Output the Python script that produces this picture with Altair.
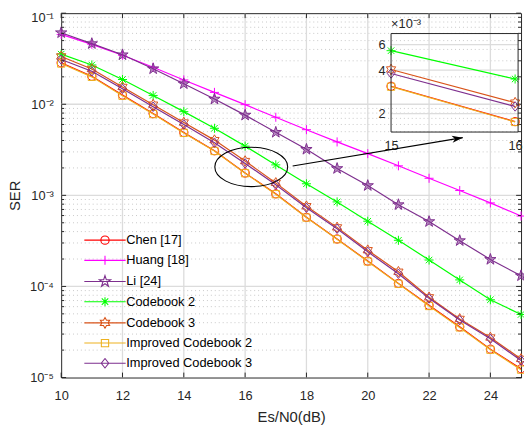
import altair as alt
import pandas as pd

# ---------------- data ----------------
snr = list(range(10, 26))
series_names = ["Chen [17]", "Huang [18]", "Li [24]", "Codebook 2", "Codebook 3",
                "Improved Codebook 2", "Improved Codebook 3"]
chen = [2.85e-2, 2.03e-2, 1.26e-2, 7.9e-3, 4.9e-3, 3.09e-3, 1.76e-3, 1.04e-3,
        5.74e-4, 3.32e-4, 1.9e-4, 1.08e-4, 6.2e-5, 3.6e-5, 2.05e-5, 1.25e-5]
huang = [5.85e-2, 4.55e-2, 3.45e-2, 2.55e-2, 1.85e-2, 1.35e-2, 9.9e-3, 7.2e-3,
         5.26e-3, 3.86e-3, 2.87e-3, 2.11e-3, 1.54e-3, 1.13e-3, 8.26e-4, 5.93e-4]
li = [6.1e-2, 4.63e-2, 3.49e-2, 2.45e-2, 1.68e-2, 1.14e-2, 7.6e-3, 4.92e-3,
      3.2e-3, 1.97e-3, 1.28e-3, 7.9e-4, 5.15e-4, 3.18e-4, 1.98e-4, 1.31e-4]
cb2 = [3.55e-2, 2.7e-2, 1.87e-2, 1.25e-2, 8.3e-3, 5.45e-3, 3.47e-3, 2.16e-3,
       1.34e-3, 8.47e-4, 5.2e-4, 3.21e-4, 1.95e-4, 1.18e-4, 7.14e-5, 4.92e-5]
cb3 = [3.35e-2, 2.44e-2, 1.55e-2, 9.9e-3, 6.3e-3, 4.04e-3, 2.38e-3, 1.37e-3,
       7.6e-4, 4.45e-4, 2.5e-4, 1.45e-4, 7.6e-5, 4.4e-5, 2.75e-5, 1.6e-5]
icb2 = [2.8e-2, 2.0e-2, 1.24e-2, 7.8e-3, 4.85e-3, 3.07e-3, 1.75e-3, 1.03e-3,
        5.7e-4, 3.3e-4, 1.88e-4, 1.07e-4, 6.1e-5, 3.55e-5, 2.02e-5, 1.22e-5]
icb3 = [3.1e-2, 2.3e-2, 1.48e-2, 9.4e-3, 6.0e-3, 3.79e-3, 2.24e-3, 1.31e-3,
        7.3e-4, 4.3e-4, 2.4e-4, 1.38e-4, 7.4e-5, 4.27e-5, 2.66e-5, 1.54e-5]
series_values = [chen, huang, li, cb2, cb3, icb2, icb3]
colors = ["#FF0000", "#FF00FF", "#7E2F8E", "#00FF00", "#D95319", "#EDB120", "#7E2F8E"]
marker_fill = [None, None, 0.55, None, None, None, None]
inset_series = ["Chen [17]", "Codebook 2", "Codebook 3", "Improved Codebook 2", "Improved Codebook 3"]

x_ticks = [10, 12, 14, 16, 18, 20, 22, 24]
y_decades = [1e-5, 1e-4, 1e-3, 1e-2, 1e-1]
y_labels = ["10⁻⁵", "10⁻⁴", "10⁻³", "10⁻²", "10⁻¹"]
y_minor = [k * d for d in [1e-5, 1e-4, 1e-3, 1e-2] for k in range(2, 10)]

inset_x_domain = [15, 16.024]
inset_y_domain = [1.49e-3, 7.16e-3]
inset_x_ticks = [15, 16]
inset_y_ticks = [0.002, 0.004, 0.006]
inset_y_labels = ["2", "4", "6"]
inset_exponent = "×10⁻³"

ellipse_center = {"x": 16.2, "y": 2.05e-3}
arrow_start = {"x": 17.55, "y": 2.1e-3}
arrow_tip = {"x": 23.1, "y": 4.3e-3}

# ---------------- styling helpers ----------------
W, H = 467, 370
FONT = "Liberation Sans"
AX = "#262626"


def poly(pts):
    return "M" + "L".join(f"{x:.2f},{y:.2f}" for x, y in pts) + "Z"


def circle(r):
    k = 0.5523 * r
    return (f"M{-r},0C{-r},{-k},{-k},{-r},0,{-r}C{k},{-r},{r},{-k},{r},0"
            f"C{r},{k},{k},{r},0,{r}C{-k},{r},{-r},{k},{-r},0Z")


def star(n, ro, ri):
    import math
    pts = []
    for i in range(2 * n):
        r = ro if i % 2 == 0 else ri
        a = math.radians(-90 + i * 180 / n)
        pts.append((r * math.cos(a), r * math.sin(a)))
    return poly(pts)


markers = [
    circle(4.2),
    "M-4.6,0L4.6,0M0,-4.6L0,4.6",
    star(5, 6.0, 2.3),
    "M-4.6,0L4.6,0M0,-4.6L0,4.6M-3.3,-3.3L3.3,3.3M-3.3,3.3L3.3,-3.3",
    star(6, 5.4, 3.1),
    poly([(-3.7, -3.7), (3.7, -3.7), (3.7, 3.7), (-3.7, 3.7)]),
    poly([(0, -4.8), (3.8, 0), (0, 4.8), (-3.8, 0)]),
]
legend_shapes = ["M-21,0L21,0" + m for m in markers]

xscale = alt.Scale(domain=[10, 25], nice=False, zero=False)
yscale = alt.Scale(type="log", domain=[1e-5, 1e-1], nice=False)
label_expr = "[" + ",".join(f"'{s}'" for s in y_labels) + "][round(log(datum.value)/LN10)+5]"
xaxis = alt.Axis(values=x_ticks, grid=False, ticks=False, domain=False, labelPadding=12,
                 labelFlush=False, title="Es/N0(dB)", titleX=W / 2, titleY=45,
                 titleBaseline="alphabetic", titleFontSize=15)
yaxis = alt.Axis(values=y_decades, labelExpr=label_expr, grid=False, ticks=False, domain=False,
                 labelPadding=8, labelFlush=False,
                 labelOffset={"condition": {"test": "datum.value > 0.05", "value": 4}, "value": 0},
                 title="SER", titleX=-47, titleY=185,
                 titleBaseline="middle", titleFontSize=15)


def X(f):
    return alt.X(f, type="quantitative", scale=xscale, axis=xaxis)


def Y(f):
    return alt.Y(f, type="quantitative", scale=yscale, axis=yaxis)


def point_mark(mk, col, fill):
    if fill is None:
        return dict(shape=mk, size=4, filled=False, color=col, strokeWidth=1, opacity=1)
    return dict(shape=mk, size=4, filled=True, fill=col, fillOpacity=fill, stroke=col,
                strokeWidth=1, opacity=1)


# ---------------- main plot layers ----------------
layers = []
xg = pd.DataFrame({"v": x_ticks[1:]})
ymaj = pd.DataFrame({"v": y_decades[1:-1]})
ymin = pd.DataFrame({"v": y_minor})
layers.append(alt.Chart(ymin).mark_rule(color="#C8C8C8", strokeWidth=1, strokeDash=[1, 3])
              .encode(y=Y("v"), x=alt.value(0), x2=alt.value(W)))
layers.append(alt.Chart(xg).mark_rule(color="#DCDCDC", strokeWidth=1.3)
              .encode(x=X("v"), y=alt.value(0), y2=alt.value(H)))
layers.append(alt.Chart(ymaj).mark_rule(color="#DCDCDC", strokeWidth=1.3)
              .encode(y=Y("v"), x=alt.value(0), x2=alt.value(W)))

for name, vals, col, mk, fl in zip(series_names, series_values, colors, markers, marker_fill):
    d = pd.DataFrame({"x": snr, "ser": vals})
    layers.append(alt.Chart(d).mark_line(color=col, strokeWidth=1.2).encode(x=X("x"), y=Y("ser")))
    layers.append(alt.Chart(d).mark_point(**point_mark(mk, col, fl))
                  .encode(x=X("x"), y=Y("ser")))

# inward ticks
xt = pd.DataFrame({"v": x_ticks})
yt = pd.DataFrame({"v": y_decades})
for y0, y1 in [(H, H - 5), (0, 5)]:
    layers.append(alt.Chart(xt).mark_rule(color=AX, strokeWidth=1)
                  .encode(x=X("v"), y=alt.value(y0), y2=alt.value(y1)))
for x0, x1, df in [(0, 5, yt), (W, W - 5, yt), (0, 3, ymin), (W, W - 3, ymin)]:
    layers.append(alt.Chart(df).mark_rule(color=AX, strokeWidth=1)
                  .encode(y=Y("v"), x=alt.value(x0), x2=alt.value(x1)))

# ellipse and arrow annotation
ell = "M-1,0C-1,-0.298,-0.5523,-0.54,0,-0.54C0.5523,-0.54,1,-0.298,1,0C1,0.298,0.5523,0.54,0,0.54C-0.5523,0.54,-1,0.298,-1,0Z"
layers.append(alt.Chart(pd.DataFrame([ellipse_center])).mark_point(
    shape=ell, size=5476, filled=False, color="black", strokeWidth=1.1, opacity=1)
    .encode(x=X("x"), y=Y("y")))
arr = pd.DataFrame({"x": [arrow_start["x"]], "y": [arrow_start["y"]],
                    "x2": [arrow_tip["x"]], "y2": [arrow_tip["y"]]})
layers.append(alt.Chart(arr).mark_rule(color="black", strokeWidth=1.1)
              .encode(x=X("x"), y=Y("y"), x2="x2", y2="y2"))
head = "M0,0L-11,-3.6L-8,0L-11,3.6Z"
layers.append(alt.Chart(pd.DataFrame([arrow_tip])).mark_point(
    shape=head, size=4, filled=True, color="black", opacity=1, angle=351)
    .encode(x=X("x"), y=Y("y")))

# legend (native legend, no marks drawn)
leg = alt.Legend(orient="none", legendX=38, legendY=224, title=None, labelFont=FONT,
                 labelFontSize=13, labelColor="#000000", symbolSize=4, symbolStrokeWidth=1.1,
                 labelOffset=15, rowPadding=5.5, symbolFillColor="transparent", symbolOpacity=1)
layers.append(alt.Chart(pd.DataFrame({"series": series_names}))
              .transform_filter("false")
              .mark_point(filled=False, size=4, opacity=1)
              .encode(color=alt.Color("series:N", scale=alt.Scale(domain=series_names, range=colors),
                                      legend=leg, sort=series_names),
                      shape=alt.Shape("series:N", scale=alt.Scale(domain=series_names, range=legend_shapes),
                                      legend=leg, sort=series_names)))

main = alt.layer(*layers)

# ---------------- inset ----------------
xis = alt.Scale(domain=inset_x_domain, range=[335, 464], nice=False, zero=False)
yis = alt.Scale(type="log", domain=inset_y_domain, range=[120.7, 20.7], nice=False)
xia = alt.Axis(orient="bottom", offset=-(H - 120.7), values=inset_x_ticks, format="d", grid=False,
               ticks=False, domain=False, labelPadding=8, labelFlush=False, title=None)
yia = alt.Axis(orient="left", offset=-335, values=inset_y_ticks,
               labelExpr="[" + ",".join(f"'{s}'" for s in inset_y_labels) + "][round(datum.value*500)-1]",
               grid=False, ticks=False, domain=False, labelPadding=6, labelFlush=False, title=None)


def XI(f):
    return alt.X(f, type="quantitative", scale=xis, axis=xia)


def YI(f):
    return alt.Y(f, type="quantitative", scale=yis, axis=yia)


ilayers = []
ig = pd.DataFrame({"v": inset_y_ticks, "a": inset_x_domain[0], "b": inset_x_domain[1]})
ilayers.append(alt.Chart(ig).mark_rule(color="#DCDCDC", strokeWidth=1.3)
               .encode(y=YI("v"), x=XI("a"), x2="b"))
for name, vals, col, mk, fl in zip(series_names, series_values, colors, markers, marker_fill):
    if name not in inset_series:
        continue
    d = pd.DataFrame({"x": snr, "ser": vals})
    d = d[(d.x >= 15) & (d.x <= 16)]
    ilayers.append(alt.Chart(d).mark_line(color=col, strokeWidth=1.2).encode(x=XI("x"), y=YI("ser")))
    ilayers.append(alt.Chart(d).mark_point(**point_mark(mk, col, fl))
                   .encode(x=XI("x"), y=YI("ser")))
box = pd.DataFrame({"a": [inset_x_domain[0]], "b": [inset_x_domain[1]],
                    "c": [inset_y_domain[0]], "d": [inset_y_domain[1]]})
ilayers.append(alt.Chart(box).mark_rect(fillOpacity=0, stroke=AX, strokeWidth=1)
               .encode(x=XI("a"), x2="b", y=YI("c"), y2="d"))
ilayers.append(alt.Chart(pd.DataFrame({"x": [inset_x_domain[0]], "y": [inset_y_domain[1]],
                                       "t": [inset_exponent]}))
               .mark_text(align="left", baseline="bottom", dy=-3, fontSize=13, font=FONT, color=AX)
               .encode(x=XI("x"), y=YI("y"), text="t:N"))
inset = alt.layer(*ilayers)

chart = (alt.layer(main, inset)
         .resolve_scale(x="independent", y="independent")
         .properties(width=W, height=H, autosize=alt.AutoSizeParams(type="none"),
                     padding={"left": 54, "top": 2, "right": 3, "bottom": 48})
         .configure_view(stroke=AX, strokeWidth=1)
         .configure_axis(labelFont=FONT, labelFontSize=13, labelColor=AX, titleFont=FONT,
                         titleColor=AX, titleFontWeight="normal")
         .configure_legend(labelFont=FONT))

chart.save("out.html", embed_options={"renderer": "svg", "actions": False})
